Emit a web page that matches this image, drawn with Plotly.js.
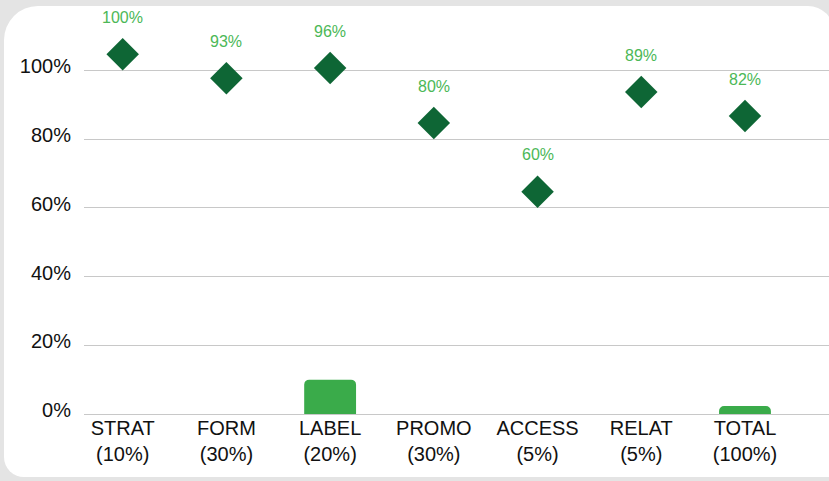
<!DOCTYPE html>
<html>
<head>
<meta charset="utf-8">
<script src="https://cdn.plot.ly/plotly-3.0.1.min.js"></script>
<style>
  html, body { margin: 0; padding: 0; }
  #wrap { position: relative; width: 829px; height: 481px; background: #e4e4e4; overflow: hidden; }
  #panel { position: absolute; left: 4px; top: 6px; width: 830px; height: 471px; background: #ffffff;
           border-radius: 34px 26px 6px 20px; }
  #chart { position: absolute; left: 0; top: 0; width: 829px; height: 481px; }
</style>
</head>
<body>
<div id="wrap">
  <div id="panel"></div>
  <div id="chart"></div>
</div>
<script>
// ---- data ----
const categories = ["STRAT<br>(10%)", "FORM<br>(30%)", "LABEL<br>(20%)", "PROMO<br>(30%)", "ACCESS<br>(5%)", "RELAT<br>(5%)", "TOTAL<br>(100%)"];
const scores = [100, 93, 96, 80, 60, 89, 82];
const barValues = [null, null, 10, null, null, null, 2.3];
const scoreLabels = ["100%", "93%", "96%", "80%", "60%", "89%", "82%"];
const yTicks = [0, 20, 40, 60, 80, 100];
const yTickText = ["0%", "20%", "40%", "60%", "80%", "100%"];

// ---- style ----
const W = 829, H = 481;
const margin = {l: 84, r: 0, t: 10, b: 67};
const yRange = [0, 117.6];
const markerSize = 25;
const plotH = H - margin.t - margin.b;
const pxPerUnit = plotH / (yRange[1] - yRange[0]);
// the diamond sits with its bottom vertex on the value
const diamondHalf = 1.3 * markerSize / 2;
const offset = diamondHalf / pxPerUnit;

const font = "Liberation Sans, Arial, sans-serif";

const barTrace = {
  type: "bar",
  x: categories,
  y: barValues,
  width: 0.5,
  marker: {color: "#3aab4a", cornerradius: 5},
  hoverinfo: "skip"
};

const diamondTrace = {
  type: "scatter",
  mode: "markers",
  x: categories,
  y: scores.map(v => v + offset),
  marker: {symbol: "diamond", size: markerSize, color: "#0e6635", line: {width: 0}},
  cliponaxis: false,
  hoverinfo: "skip"
};

const annotations = categories.map((c, i) => ({
  x: c, y: scores[i], xref: "x", yref: "y",
  text: scoreLabels[i], showarrow: false,
  yanchor: "middle", yshift: 53,
  font: {family: font, size: 16, color: "#4cb857"}
}));

const layout = {
  width: W, height: H,
  margin: margin,
  paper_bgcolor: "rgba(0,0,0,0)",
  plot_bgcolor: "rgba(0,0,0,0)",
  showlegend: false,
  xaxis: {
    type: "category",
    range: [-0.373, 6.81],
    showgrid: false,
    zeroline: false,
    showline: false,
    ticks: "",
    tickfont: {family: font, size: 20, color: "#111111"},
    fixedrange: true
  },
  yaxis: {
    range: yRange,
    tickvals: yTicks,
    ticktext: yTickText,
    showgrid: true,
    gridcolor: "#c8c8c8",
    gridwidth: 1,
    zeroline: true,
    zerolinecolor: "#c8c8c8",
    zerolinewidth: 1,
    showline: false,
    ticks: "",
    ticklabelstandoff: 12,
    ticklabelshift: -4,
    tickfont: {family: font, size: 20, color: "#111111"},
    fixedrange: true
  },
  annotations: annotations
};

Plotly.newPlot("chart", [barTrace, diamondTrace], layout, {displayModeBar: false, staticPlot: true});
</script>
</body>
</html>
